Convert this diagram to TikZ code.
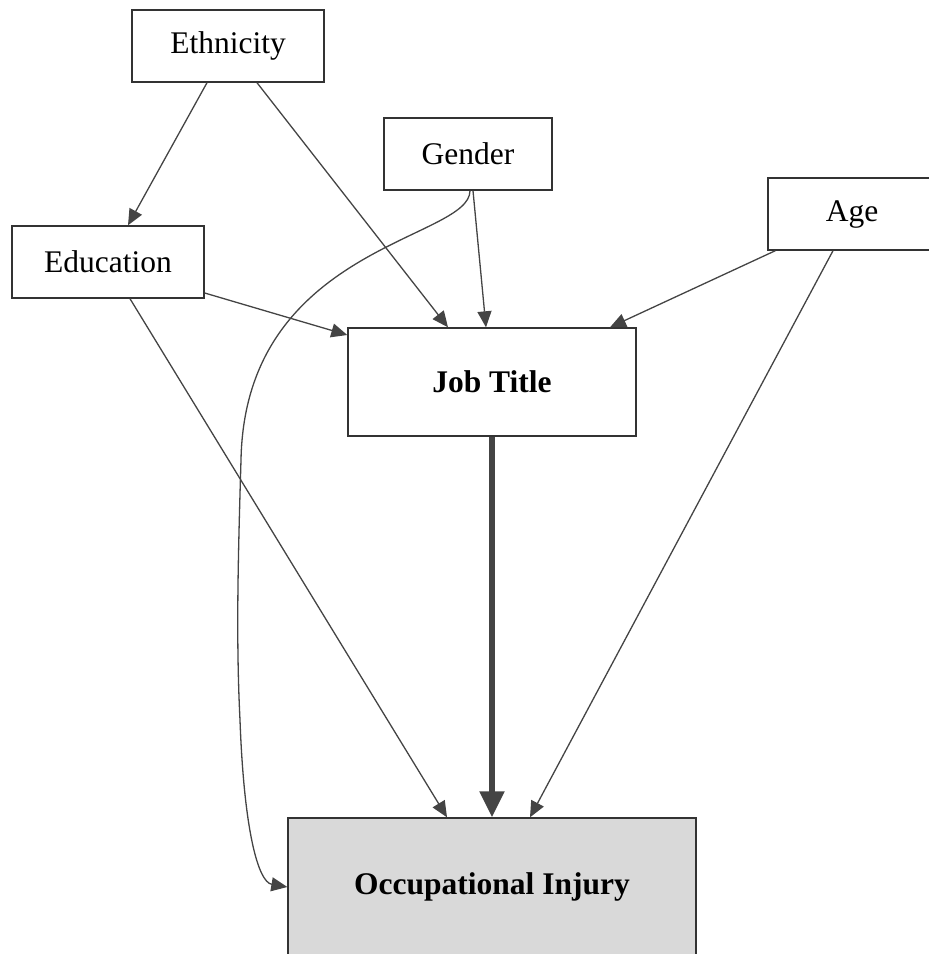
\documentclass[tikz,border=0pt]{standalone}
\usepackage{fontspec}
\setmainfont{Liberation Serif}
\usetikzlibrary{arrows.meta}
\definecolor{linec}{HTML}{444444}
\definecolor{boxc}{HTML}{333333}
\definecolor{injfill}{HTML}{D9D9D9}
\begin{document}
\begin{tikzpicture}[x=1pt,y=-1pt,
  box/.style={draw=boxc,line width=1.4pt,fill=white,inner sep=0pt,
    font=\fontsize{31.5}{36}\selectfont},
  link/.style={draw=linec,line width=1.3pt,-{Triangle[length=16pt,width=14pt]}},
  biglink/.style={draw=linec,line width=5.5pt,-{Triangle[length=26pt,width=24pt]}}]
\useasboundingbox (0,0) rectangle (929,954);
\node[box,minimum width=192pt,minimum height=72pt] (eth) at (228,46) {Ethnicity};
\node[box,minimum width=168pt,minimum height=72pt] (gen) at (468,154) {Gender};
\node[box,minimum width=168pt,minimum height=72pt] (age) at (852,214) {Age};
\node[box,minimum width=192pt,minimum height=72pt] (edu) at (108,262) {Education};
\node[box,minimum width=288pt,minimum height=108pt,font=\fontsize{31.5}{36}\selectfont\bfseries] (job) at (492,382) {Job Title};
\node[box,fill=injfill,minimum width=408pt,minimum height=138pt,font=\fontsize{31.5}{36}\selectfont\bfseries] (inj) at (492,887) {Occupational Injury};
\draw[link] ([xshift=-21pt]eth.south) -- ([xshift=20pt]edu.north);
\draw[link] ([xshift=29pt]eth.south) -- ([xshift=-44pt]job.north);
\draw[link] ([xshift=5pt]gen.south) -- ([xshift=-6pt]job.north);
\draw[link] ([yshift=-31pt]edu.east) -- ([yshift=47pt]job.west);
\draw[link] ([xshift=22pt]edu.south) -- ([xshift=-45pt]inj.north);
\draw[link] ([xshift=8pt]age.south west) -- ([xshift=118pt]job.north);
\draw[link] ([xshift=-19pt]age.south) -- ([xshift=38pt]inj.north);
\draw[biglink] (job.south) -- (inj.north);
\draw[link] ([xshift=2pt]gen.south) .. controls (470,240) and (245,245) .. (241,460)
  .. controls (238,560) and (236,640) .. (240,720)
  .. controls (244,830) and (258,882) .. (inj.west);
\end{tikzpicture}
\end{document}
